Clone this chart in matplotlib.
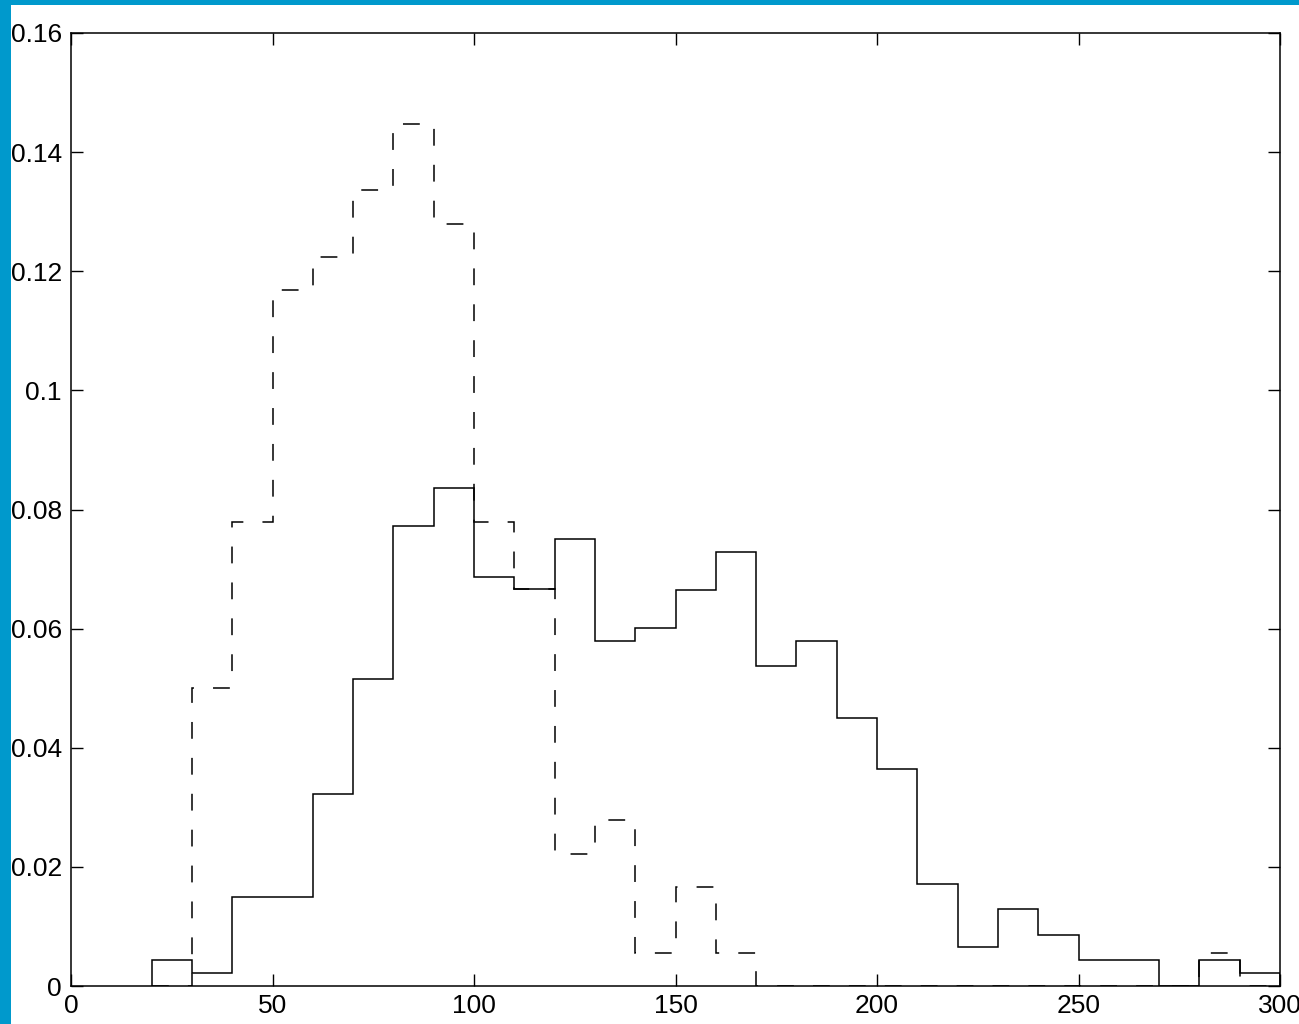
import matplotlib
matplotlib.use("Agg")
import matplotlib.pyplot as plt
from matplotlib.patches import Rectangle
from matplotlib.ticker import FixedLocator, FuncFormatter
import numpy as np

# Bin edges (width 10 from 20 to 300)
bin_edges = list(range(20, 301, 10))

# Dashed histogram (normalised frequency)
dashed_values = [0, 0.0500, 0.0779, 0.1169, 0.1224, 0.1336, 0.1447, 0.1279,
                 0.0779, 0.0667, 0.0222, 0.0279, 0.0055, 0.0166, 0.0055,
                 0, 0, 0, 0, 0, 0, 0, 0, 0, 0, 0, 0.0055, 0]

# Solid histogram (normalised frequency)
solid_values = [0.0044, 0.0022, 0.0149, 0.0149, 0.0322, 0.0515, 0.0772, 0.0836,
                0.0687, 0.0667, 0.0750, 0.0579, 0.0601, 0.0665, 0.0729, 0.0537,
                0.0579, 0.0450, 0.0364, 0.0171, 0.0065, 0.0129, 0.0086, 0.0044,
                0.0044, 0, 0.0044, 0.0022]

x_ticks = [0, 50, 100, 150, 200, 250, 300]
y_ticks = [0, 0.02, 0.04, 0.06, 0.08, 0.1, 0.12, 0.14, 0.16]

plt.rcParams['font.family'] = ['Liberation Sans', 'DejaVu Sans']

fig = plt.figure(figsize=(12.99, 10.24), dpi=100)
fig.patch.set_facecolor('white')

# Blue frame strips (left and top)
blue = '#0099CC'
fig.patches.append(Rectangle((0, 0), 11 / 1299, 1, transform=fig.transFigure,
                             facecolor=blue, edgecolor='none', zorder=0))
fig.patches.append(Rectangle((0, 1 - 5 / 1024), 1, 5 / 1024, transform=fig.transFigure,
                             facecolor=blue, edgecolor='none', zorder=0))

ax = fig.add_axes([71 / 1299, 38 / 1024, 1209 / 1299, 953 / 1024])

ax.stairs(dashed_values, bin_edges, baseline=0, color='black', linewidth=1.1,
          linestyle=(0, (11, 12.5)))
ax.stairs(solid_values, bin_edges, baseline=0, color='black', linewidth=1.1)

ax.set_xlim(0, 300)
ax.set_ylim(0, 0.16)
ax.xaxis.set_major_locator(FixedLocator(x_ticks))
ax.yaxis.set_major_locator(FixedLocator(y_ticks))
ax.yaxis.set_major_formatter(FuncFormatter(lambda v, p: '%g' % v))
ax.xaxis.set_major_formatter(FuncFormatter(lambda v, p: '%g' % v))

ax.tick_params(axis='both', which='major', direction='in', length=8.6, width=1.0,
               labelsize=19, top=True, right=True, colors='black')
ax.tick_params(axis='x', pad=6)
ax.tick_params(axis='y', pad=6.5)
for s in ax.spines.values():
    s.set_linewidth(1.1)
    s.set_color('black')

fig.savefig('out.png', dpi=100)
